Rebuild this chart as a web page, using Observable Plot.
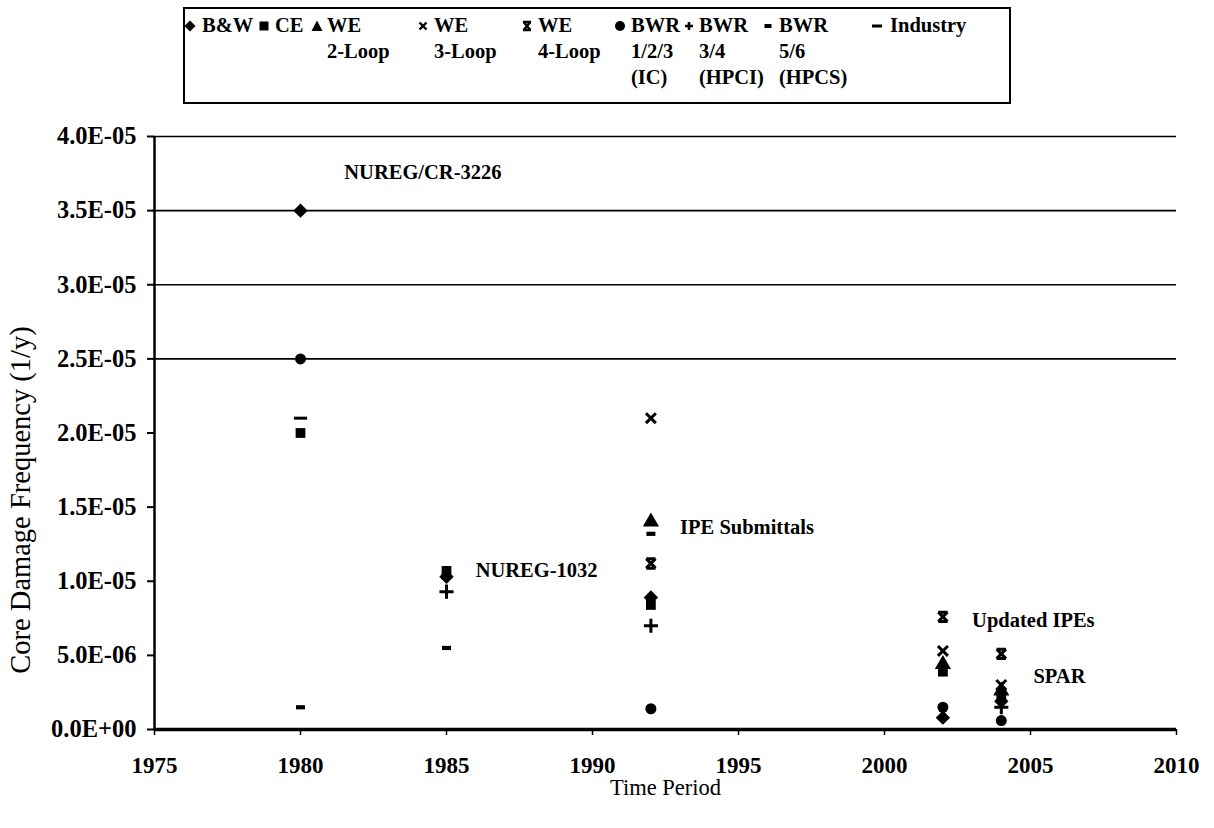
<!DOCTYPE html>
<html><head><meta charset="utf-8">
<script src="https://cdn.jsdelivr.net/npm/d3@7"></script>
<script src="https://cdn.jsdelivr.net/npm/@observablehq/plot@0.6"></script>
<style>
body{margin:0;background:#fff;}
#wrap{position:relative;width:1214px;height:828px;overflow:hidden;font-family:"Liberation Serif","Times New Roman",serif;color:#000;}
#legendBox{position:absolute;left:183px;top:7px;width:828px;height:97px;border:2px solid #000;box-sizing:border-box;}
.lt{position:absolute;font-weight:bold;font-size:20.5px;line-height:26px;white-space:nowrap;}
.ls{position:absolute;overflow:visible;}
#chart{position:absolute;left:0;top:110px;}
#chart g[aria-label$="tick label"]{font-weight:bold;}
#chart g[aria-label="y-axis tick label"]{font-size:24.5px;}
#chart g[aria-label="x-axis tick label"]{font-size:23px;}
#chart g[aria-label="x-axis label"]{font-weight:normal;font-size:22.5px;}
</style>
</head><body>
<div id="wrap">
  <div id="legendBox"></div>
  <div id="legend"></div>
  <div id="chart"></div>
</div>
<script>
// ---------- data ----------
const periods = [1980, 1985, 1992, 2002, 2004];
const seriesNames = ["B&W", "CE", "WE 2-Loop", "WE 3-Loop", "WE 4-Loop", "BWR 1/2/3 (IC)", "BWR 3/4 (HPCI)", "BWR 5/6 (HPCS)", "Industry"];
const cdfBW      = [3.5e-5, 1.03e-5, 8.9e-6, 8.0e-7, 1.9e-6];
const cdfCE      = [2.0e-5, 1.07e-5, 8.4e-6, 3.9e-6, 2.3e-6];
const cdfWE2     = [null,   null,    1.40e-5, 4.4e-6, 2.6e-6];
const cdfWE3     = [null,   null,    2.10e-5, 5.3e-6, 3.0e-6];
const cdfWE4     = [null,   null,    1.12e-5, 7.6e-6, 5.1e-6];
const cdfBWR123  = [2.5e-5, null,    1.4e-6,  1.5e-6, 6.0e-7];
const cdfBWR34   = [null,   9.3e-6,  7.0e-6,  null,   1.5e-6];
const cdfBWR56   = [1.5e-6, 5.5e-6,  1.32e-5, null,   null];
const cdfIndustry= [2.1e-5, null,    null,    null,   null];

const annoYears  = [1981.5, 1986.0, 1993.0, 2003.0, 2005.1];
const annoValues = [3.76e-5, 1.075e-5, 1.365e-5, 7.35e-6, 3.6e-6];
const annoTexts  = ["NUREG/CR-3226", "NUREG-1032", "IPE Submittals", "Updated IPEs", "SPAR"];

const xTickValues = [1975, 1980, 1985, 1990, 1995, 2000, 2005, 2010];
const xTickLabels = ["1975", "1980", "1985", "1990", "1995", "2000", "2005", "2010"];
const yTickValues = [0, 0.5e-5, 1.0e-5, 1.5e-5, 2.0e-5, 2.5e-5, 3.0e-5, 3.5e-5, 4.0e-5];
const yTickLabels = ["0.0E+00", "5.0E-06", "1.0E-05", "1.5E-05", "2.0E-05", "2.5E-05", "3.0E-05", "3.5E-05", "4.0E-05"];
const gridValues  = [2.5e-5, 3.0e-5, 3.5e-5, 4.0e-5];
const yTitle = "Core Damage Frequency (1/y)";
const xTitle = "Time Period";

// ---------- symbols ----------
const hourglass = {draw(ctx, size) {
  const r = Math.sqrt(size / Math.PI) * 0.85;
  ctx.moveTo(-r, -r); ctx.lineTo(r, r);
  ctx.moveTo(r, -r); ctx.lineTo(-r, r);
  ctx.moveTo(-r, -r); ctx.lineTo(r, -r);
  ctx.moveTo(-r, r); ctx.lineTo(r, r);
}};
const shortDash = {draw(ctx, size) {
  const r = Math.sqrt(size / Math.PI);
  ctx.rect(-r * 0.75, -r * 0.35, r * 1.5, r * 0.7);
}};
const longDash = {draw(ctx, size) {
  const r = Math.sqrt(size / Math.PI);
  ctx.rect(-r * 1.1, -r * 0.25, r * 2.2, r * 0.5);
}};

function pts(values) {
  return periods.map((p, i) => ({year: p, cdf: values[i]})).filter(d => d.cdf != null);
}
const filled = (values, symbol, r) => Plot.dot(pts(values), {x: "year", y: "cdf", symbol, r, fill: "black", stroke: "none"});
const stroked = (values, symbol, r, sw) => Plot.dot(pts(values), {x: "year", y: "cdf", symbol, r, fill: "none", stroke: "black", strokeWidth: sw});

const yLabelMap = new Map(yTickValues.map((v, i) => [v, yTickLabels[i]]));
const xLabelMap = new Map(xTickValues.map((v, i) => [v, xTickLabels[i]]));

const chart = Plot.plot({
  width: 1214,
  height: 718,
  marginTop: 26,
  marginBottom: 99,
  marginLeft: 154,
  marginRight: 38,
  style: {fontFamily: "'Liberation Serif', 'Times New Roman', serif", fontSize: "20px", color: "black", background: "white"},
  x: {domain: [1975, 2010]},
  y: {domain: [0, 4.0e-5]},
  marks: [
    Plot.ruleY(gridValues, {stroke: "black", strokeWidth: 1.6}),
    Plot.axisX({ticks: xTickValues, tickFormat: d => xLabelMap.get(d), tickSize: 6, tickPadding: 21, strokeWidth: 1.5,
      label: xTitle, labelAnchor: "center", labelArrow: false, labelOffset: 65}),
    Plot.axisY({ticks: yTickValues, tickFormat: d => yLabelMap.get(d), tickSize: 7, tickPadding: 11, strokeWidth: 2,
      label: null}),
    Plot.text([yTitle], {frameAnchor: "left", dx: -134, dy: 67, rotate: -90, text: d => d,
      textAnchor: "middle", lineAnchor: "middle", fontSize: 28.5, fill: "black"}),
    Plot.ruleX([1975], {stroke: "black", strokeWidth: 2.5}),
    Plot.ruleY([0], {stroke: "black", strokeWidth: 3.5}),
    filled(cdfBW, "diamond2", 6.5),
    filled(cdfBWR123, "circle", 5.5),
    filled(cdfWE2, "triangle", 6),
    filled(cdfCE, "square", 5.5),
    stroked(cdfWE3, "times", 4.6, 3),
    stroked(cdfWE4, hourglass, 5.5, 3),
    stroked(cdfBWR34, "plus", 4.6, 3),
    filled(cdfBWR56, shortDash, 6),
    filled(cdfIndustry, longDash, 6),
    Plot.text(annoTexts, {x: (d, i) => annoYears[i], y: (d, i) => annoValues[i], text: d => d,
      textAnchor: "start", fontSize: 20.5, fontWeight: "bold", fill: "black"})
  ]
});
document.getElementById("chart").appendChild(chart);

// ---------- legend (HTML) ----------
const legendSymbols = [
  `<polygon points="6,0.5 11.5,6 6,11.5 0.5,6" fill="black"/>`,
  `<rect x="1.5" y="1.5" width="9" height="9" fill="black"/>`,
  `<polygon points="6,0.5 11.5,11 0.5,11" fill="black"/>`,
  `<path d="M2.5,2.5L9.5,9.5M9.5,2.5L2.5,9.5" stroke="black" stroke-width="2.4"/>`,
  `<path d="M2.5,2L9.5,10M9.5,2L2.5,10M2,2H10M2,10H10" stroke="black" stroke-width="2.4"/>`,
  `<circle cx="6" cy="6" r="5" fill="black"/>`,
  `<path d="M6,2V10M2,6H10" stroke="black" stroke-width="2.6"/>`,
  `<rect x="2.5" y="4" width="7" height="4" fill="black"/>`,
  `<rect x="1" y="4.5" width="10" height="3" fill="black"/>`
];
const legendLines = [["B&W"], ["CE"], ["WE", "2-Loop"], ["WE", "3-Loop"], ["WE", "4-Loop"],
  ["BWR", "1/2/3", "(IC)"], ["BWR", "3/4", "(HPCI)"], ["BWR", "5/6", "(HPCS)"], ["Industry"]];
const legendSymX = [190, 264, 317, 423, 527, 620, 689, 768, 877];
const legendTextX = [202, 275, 327, 434, 538, 631, 699, 779, 890];
const lg = document.getElementById("legend");
legendLines.forEach((lines, i) => {
  const s = document.createElementNS("http://www.w3.org/2000/svg", "svg");
  s.setAttribute("class", "ls"); s.setAttribute("width", 12); s.setAttribute("height", 12);
  s.style.left = (legendSymX[i] - 6) + "px"; s.style.top = "20px";
  s.innerHTML = legendSymbols[i];
  lg.appendChild(s);
  lines.forEach((t, j) => {
    const d = document.createElement("div");
    d.className = "lt"; d.textContent = t;
    d.style.left = legendTextX[i] + "px"; d.style.top = (12 + j * 26) + "px";
    lg.appendChild(d);
  });
});
</script>
</body></html>
